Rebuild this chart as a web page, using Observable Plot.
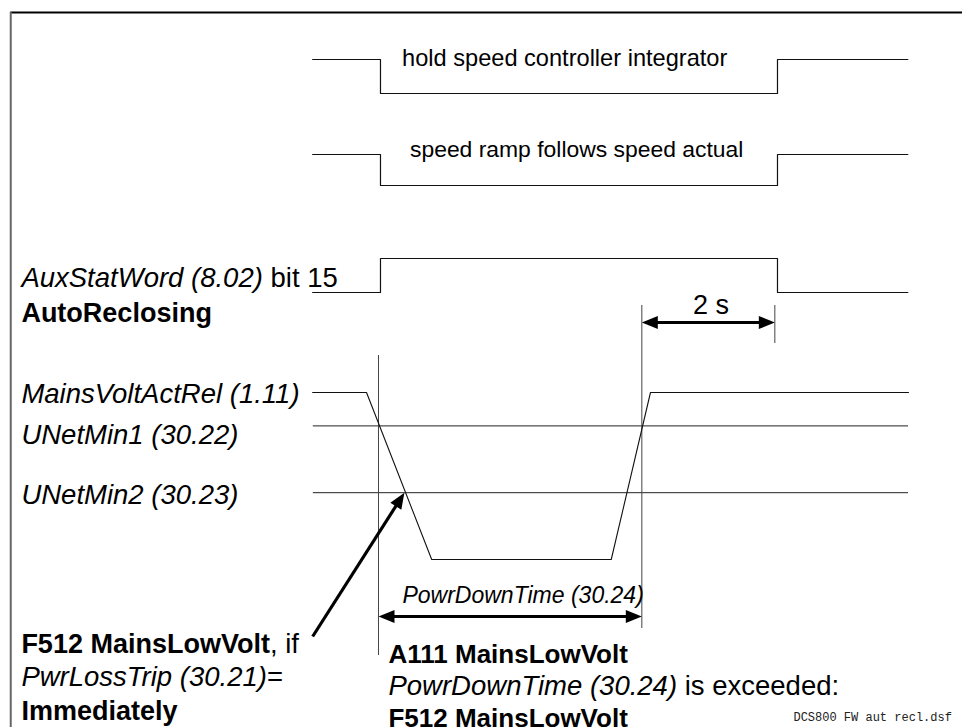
<!DOCTYPE html>
<html>
<head>
<meta charset="utf-8">
<script src="https://cdn.jsdelivr.net/npm/d3@7"></script>
<script src="https://cdn.jsdelivr.net/npm/@observablehq/plot@0.6"></script>
<style>
  html, body { margin: 0; padding: 0; background: #fff; }
  #chart svg { display: block; }
</style>
</head>
<body>
<div id="chart"></div>
<script>
// ===== DATA (time in s; 0 = mains voltage falls below UNetMin1) =====
const holdTimes   = [-0.99, 0.03, 0.03, 6.0, 6.0, 7.96];
const holdStates  = [1, 1, 0, 0, 1, 1];
const rampTimes   = [-0.99, 0.03, 0.03, 6.0, 6.0, 7.96];
const rampStates  = [1, 1, 0, 0, 1, 1];
const auxTimes    = [-0.99, 0.03, 0.03, 6.0, 6.0, 7.96];
const auxStates   = [0, 0, 1, 1, 0, 0];
const mainsTimes  = [-0.99, -0.18, 0.80, 3.50, 4.09, 7.97];
const mainsVolts  = [100, 100, 0, 0, 100, 100];   // % of nominal
const thresholdVolts = [80, 40];                  // UNetMin1, UNetMin2
const thresholdSpan  = [-0.98, 7.97];
const undercutTime   = 0;      // below UNetMin1
const tripTime       = 0.39;   // below UNetMin2
const returnTime     = 3.96;   // back above UNetMin1
const reclosingDelay = 2;      // s

// ===== TEXT =====
const signalLabels = ["hold speed controller integrator", "speed ramp follows speed actual"];
const leftLabelParts = [
  [["AuxStatWord (8.02)", "i"], [" bit 15", "n"]],
  [["AutoReclosing", "b"]],
  [["MainsVoltActRel (1.11)", "i"]],
  [["UNetMin1 (30.22)", "i"]],
  [["UNetMin2 (30.23)", "i"]],
  [["F512 MainsLowVolt", "b"], [", if", "n"]],
  [["PwrLossTrip (30.21)", "i"], ["=", "n"]],
  [["Immediately", "b"]]
];
const alarmLabelParts = [
  [["A111 MainsLowVolt", "b"]],
  [["PowrDownTime (30.24)", "i"], [" is exceeded:", "n"]],
  [["F512 MainsLowVolt", "b"]]
];
const delayLabel = "2 s";
const powrDownLabel = "PowrDownTime (30.24)";
const fileLabel = "DCS800 FW aut recl.dsf";

// ===== LAYOUT =====
const W = 962, H = 727;
const xDomain = [-5.684, 8.782];
const pxPerSec = W / (xDomain[1] - xDomain[0]);
const laneY = {hold: [93, 59], ramp: [185, 154], aux: [292, 258]};
const voltY = v => 559 + (392 - 559) * v / 100;
const frame = {left: -5.53, top: 12};
const leftX = -5.37, alarmX = 0.15;
const leftBaselines = [286, 321, 402, 443, 503, 652, 685, 719];
const alarmBaselines = [662, 694, 726];
const signalLabelPos = [{t: 2.80, y: 65, size: 23.6}, {t: 2.98, y: 156, size: 22.9}];
const delayArrowY = 322, powrArrowY = 616;

const toRows = (ts, vs, f) => ts.map((t, i) => ({t, y: f(vs[i])}));
const holdLine  = toRows(holdTimes, holdStates, s => laneY.hold[s]);
const rampLine  = toRows(rampTimes, rampStates, s => laneY.ramp[s]);
const auxLine   = toRows(auxTimes, auxStates, s => laneY.aux[s]);
const mainsLine = toRows(mainsTimes, mainsVolts, voltY);

const markers = [
  {t: undercutTime, y1: 355, y2: 655},
  {t: returnTime, y1: 305, y2: 628},
  {t: returnTime + reclosingDelay, y1: 305, y2: 343}
];
const dims = [
  {t1: returnTime, t2: returnTime + reclosingDelay, y: delayArrowY},
  {t1: undercutTime, t2: returnTime, y: powrArrowY}
];
const diagStart = {t: -0.99, y: 636};
const diagEnd = {t: tripTime, y: voltY(thresholdVolts[1])};
const diagAngle = Math.atan2((diagEnd.t - diagStart.t) * pxPerSec, diagStart.y - diagEnd.y) * 180 / Math.PI;
const heads = [
  {t: dims[0].t1, y: dims[0].y, a: -90},
  {t: dims[0].t2, y: dims[0].y, a: 90},
  {t: dims[1].t1, y: dims[1].y, a: -90},
  {t: dims[1].t2, y: dims[1].y, a: 90},
  {t: diagEnd.t, y: diagEnd.y, a: diagAngle}
];
const triangle = {
  draw(context, l, r) {
    context.moveTo(0, -l);
    context.lineTo(-r, 0);
    context.lineTo(r, 0);
    context.closePath();
  }
};

const leftData = leftLabelParts.map((parts, i) => ({parts, t: leftX, y: leftBaselines[i], bold: 27}));
const alarmData = alarmLabelParts.map((parts, i) => ({parts, t: alarmX, y: alarmBaselines[i], bold: 26}));
const mixedData = leftData.concat(alarmData);
const joined = d => d.parts.map(p => p[0]).join("");

const FONT = "'Liberation Sans', Arial, Helvetica, sans-serif";

const plot = Plot.plot({
  width: W, height: H,
  margin: 0,
  style: `font-family: ${FONT}; background: #fff; overflow: hidden;`,
  x: {domain: xDomain, range: [0, W], axis: null},
  y: {domain: [0, H], range: [0, H], axis: null},
  marks: [
    // frame
    Plot.ruleY([frame.top], {x1: frame.left, x2: xDomain[1], stroke: "#000", strokeWidth: 2}),
    Plot.ruleX([frame.left], {y1: frame.top, y2: H, stroke: "#666", strokeWidth: 2}),
    // thresholds
    Plot.ruleY(thresholdVolts, {y: voltY, x1: thresholdSpan[0], x2: thresholdSpan[1], stroke: "#222", strokeWidth: 1}),
    // time markers
    Plot.ruleX(markers, {x: "t", y1: "y1", y2: "y2", stroke: "#444", strokeWidth: 1}),
    // signals
    Plot.line(holdLine, {x: "t", y: "y", stroke: "#111", strokeWidth: 1.2}),
    Plot.line(rampLine, {x: "t", y: "y", stroke: "#111", strokeWidth: 1.2}),
    Plot.line(auxLine, {x: "t", y: "y", stroke: "#111", strokeWidth: 1.2}),
    Plot.line(mainsLine, {x: "t", y: "y", stroke: "#111", strokeWidth: 1.1}),
    // dimension arrows
    Plot.ruleY(dims, {y: "y", x1: "t1", x2: "t2", insetLeft: 8, insetRight: 8, stroke: "#000", strokeWidth: 3}),
    Plot.arrow([{x1: diagStart.t, y1: diagStart.y, x2: diagEnd.t, y2: diagEnd.y}],
      {x1: "x1", y1: "y1", x2: "x2", y2: "y2", headLength: 0, insetEnd: 12, stroke: "#000", strokeWidth: 3.2, strokeLinecap: "butt"}),
    Plot.vector(heads, {x: "t", y: "y", rotate: "a", length: 16, r: 6.5, anchor: "end", shape: triangle, fill: "#000", stroke: "none"}),
    // texts
    Plot.text(signalLabels, {x: (d, i) => signalLabelPos[i].t, y: (d, i) => signalLabelPos[i].y, fontSize: (d, i) => signalLabelPos[i].size, text: d => d, textAnchor: "middle", lineAnchor: "bottom", fill: "#000"}),
    Plot.text([delayLabel], {x: returnTime + reclosingDelay / 2 + 0.04, y: 313, text: d => d, textAnchor: "middle", lineAnchor: "bottom", fontSize: 27, fill: "#000"}),
    Plot.text([powrDownLabel], {x: 0.36, y: 602, text: d => d, textAnchor: "start", lineAnchor: "bottom", fontSize: 23, fontStyle: "italic", fill: "#000"}),
    Plot.text(mixedData, {x: "t", y: "y", text: joined, textAnchor: "start", lineAnchor: "bottom", fontSize: 27.5, fill: "#000"}),
    Plot.text([fileLabel], {x: 6.24, y: 720, text: d => d, textAnchor: "start", lineAnchor: "bottom", fontSize: 12, fontFamily: "'Liberation Mono', 'Courier New', monospace", fill: "#222"})
  ]
});

// mixed-style lines: split into styled tspans (matched by their text)
const SVGNS = "http://www.w3.org/2000/svg";
const pending = mixedData.slice();
plot.querySelectorAll("text").forEach(node => {
  const k = pending.findIndex(d => joined(d) === node.textContent);
  if (k < 0) return;
  const d = pending.splice(k, 1)[0];
  while (node.firstChild) node.removeChild(node.firstChild);
  for (const [txt, s] of d.parts) {
    const ts = document.createElementNS(SVGNS, "tspan");
    ts.textContent = txt;
    if (s === "i") ts.setAttribute("font-style", "italic");
    if (s === "b") {
      ts.setAttribute("font-weight", "bold");
      ts.setAttribute("font-size", String(d.bold));
    }
    node.appendChild(ts);
  }
  node.setAttribute("style", "white-space: pre");
});

document.getElementById("chart").appendChild(plot);
</script>
</body>
</html>
